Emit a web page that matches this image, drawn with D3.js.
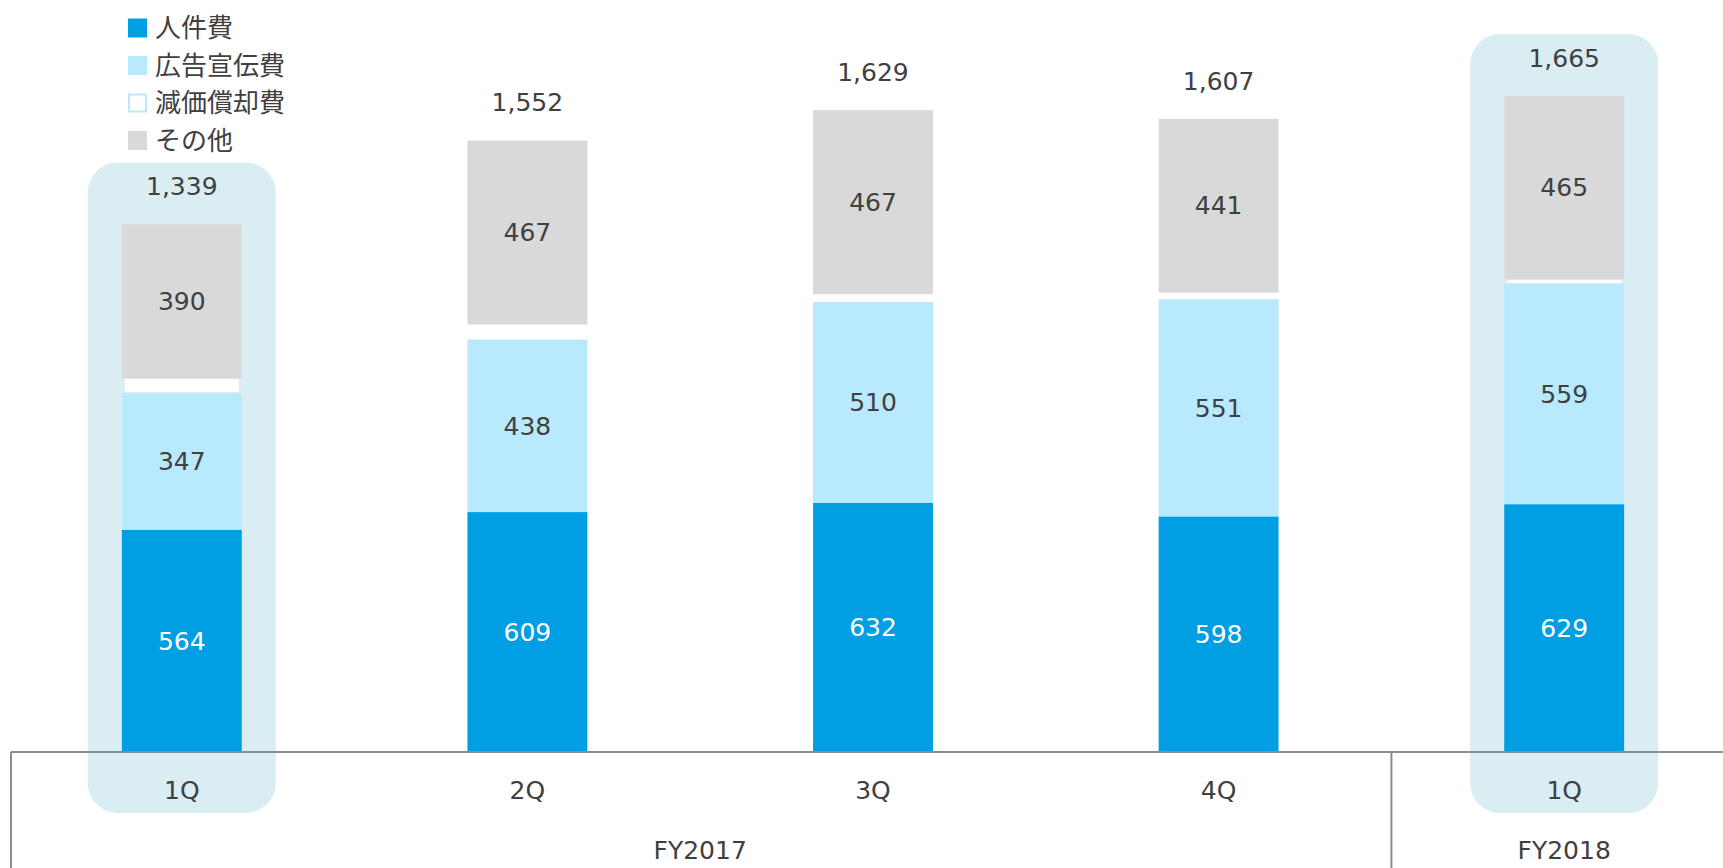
<!DOCTYPE html>
<html>
<head>
<meta charset="utf-8">
<script src="https://cdn.jsdelivr.net/npm/d3@7"></script>
<style>
  body { margin: 0; background: #fff; }
  text { font-family: "DejaVu Sans", Verdana, "Noto Sans CJK JP", sans-serif; fill: #404040; }
</style>
</head>
<body>
<div id="chart"></div>
<script>
var w = 1723;
var h = 868;

// data
var quarters = ["1Q", "2Q", "3Q", "4Q", "1Q "];
var years = ["FY2017", "FY2018"];
var yearSpans = [[0, 3], [4, 4]];
var series = ["人件費", "広告宣伝費", "減価償却費", "その他"];
var personnel = [564, 609, 632, 598, 629];
var advertising = [347, 438, 510, 551, 559];
var depreciation = [38, 38, 20, 17, 12];
var other = [390, 467, 467, 441, 465];
var totals = [1339, 1552, 1629, 1607, 1665];
var highlighted = [0, 4];

var colors = ["#009fe3", "#b8e9fd", "#ffffff", "#d9d9d9"];
var showLabel = [true, true, false, true];

var baseY = 752;

var xScale = d3.scaleBand()
    .domain(quarters)
    .range([9, 1737])
    .paddingInner(0.653)
    .paddingOuter(0.3265);

var yScale = d3.scaleLinear()
    .domain([0, 1665])
    .range([baseY, 96]);

var rows = quarters.map(function(q, i) {
    return {q: q, "人件費": personnel[i], "広告宣伝費": advertising[i],
            "減価償却費": depreciation[i], "その他": other[i], total: totals[i]};
});

var stack = d3.stack().keys(series);
var layers = stack(rows);

var svg = d3.select("#chart")
    .append("svg")
    .attr("width", w)
    .attr("height", h);

// highlight boxes behind the bars
svg.selectAll("rect.hl")
    .data(highlighted)
    .enter()
    .append("rect")
    .attr("class", "hl")
    .attr("x", function(i) { return xScale(quarters[i]) + xScale.bandwidth() / 2 - 94; })
    .attr("width", 188)
    .attr("y", function(i) { return yScale(totals[i]) - 62; })
    .attr("height", function(i) { return 813 - (yScale(totals[i]) - 62); })
    .attr("rx", 30)
    .attr("fill", "#daedf3");

// stacked bars
var layer = svg.selectAll("g.layer")
    .data(layers)
    .enter()
    .append("g")
    .attr("class", "layer");

layer.selectAll("rect")
    .data(function(d, k) { return d.map(function(p) { return {p: p, k: k}; }); })
    .enter()
    .append("rect")
    .attr("x", function(d) {
        return xScale(d.p.data.q) + (d.k == 2 ? 3 : 0);
    })
    .attr("width", function(d) { return xScale.bandwidth() - (d.k == 2 ? 6 : 0); })
    .attr("y", function(d) { return yScale(d.p[1]) + (d.k == 2 ? 1 : 0); })
    .attr("height", function(d) {
        var hh = yScale(d.p[0]) - yScale(d.p[1]);
        return d.k == 2 ? Math.max(hh - 2, 1) : hh;
    })
    .attr("fill", function(d) { return colors[d.k]; });

// segment labels
layer.selectAll("text")
    .data(function(d, k) { return showLabel[k] ? d.map(function(p) { return {p: p, k: k}; }) : []; })
    .enter()
    .append("text")
    .attr("x", function(d) { return xScale(d.p.data.q) + xScale.bandwidth() / 2; })
    .attr("y", function(d) { return (yScale(d.p[0]) + yScale(d.p[1])) / 2; })
    .attr("dy", "0.35em")
    .attr("text-anchor", "middle")
    .style("font-size", "25px")
    .style("fill", function(d) { return d.k == 0 ? "#ffffff" : "#404040"; })
    .text(function(d) { return d.p[1] - d.p[0]; });

// totals
svg.selectAll("text.total")
    .data(rows)
    .enter()
    .append("text")
    .attr("class", "total")
    .attr("x", function(d) { return xScale(d.q) + xScale.bandwidth() / 2; })
    .attr("y", function(d) { return yScale(d.total) - 38; })
    .attr("dy", "0.35em")
    .attr("text-anchor", "middle")
    .style("font-size", "25px")
    .text(function(d) { return d3.format(",")(d.total); });

// category axis with group lines
var xAxis = d3.axisBottom(xScale).tickSize(0).tickPadding(0);
var axisG = svg.append("g")
    .attr("transform", "translate(0," + baseY + ")")
    .call(xAxis);
axisG.select(".domain").remove();
axisG.selectAll("text")
    .attr("y", 38)
    .attr("dy", "0.35em")
    .style("font-size", "25px")
    .style("font-family", null)
    .attr("fill", "#404040");

svg.append("line")
    .attr("x1", 11).attr("x2", w)
    .attr("y1", baseY).attr("y2", baseY)
    .attr("stroke", "#8c8c8c").attr("stroke-width", 2);

var step = xScale.step();
var dividers = [xScale(quarters[0]) + xScale.bandwidth() / 2 - step / 2 + 2,
                xScale(quarters[3]) + xScale.bandwidth() / 2 + step / 2];
svg.selectAll("line.div")
    .data(dividers)
    .enter()
    .append("line")
    .attr("class", "div")
    .attr("x1", function(d) { return d; }).attr("x2", function(d) { return d; })
    .attr("y1", baseY).attr("y2", h)
    .attr("stroke", "#8c8c8c").attr("stroke-width", 2);

svg.selectAll("text.year")
    .data(years)
    .enter()
    .append("text")
    .attr("class", "year")
    .attr("x", function(d, i) {
        var a = xScale(quarters[yearSpans[i][0]]);
        var b = xScale(quarters[yearSpans[i][1]]) + xScale.bandwidth();
        return (a + b) / 2;
    })
    .attr("y", 850)
    .attr("dy", "0.35em")
    .attr("text-anchor", "middle")
    .style("font-size", "25px")
    .text(function(d) { return d; });

// legend
var legend = svg.selectAll("g.legend")
    .data(series)
    .enter()
    .append("g")
    .attr("class", "legend")
    .attr("transform", function(d, i) { return "translate(128," + (28 + i * 37.5) + ")"; });

legend.append("rect")
    .attr("x", function(d, i) { return i == 2 ? 1 : 0; })
    .attr("y", function(d, i) { return i == 2 ? -8.5 : -9.5; })
    .attr("width", function(d, i) { return i == 2 ? 17 : 19; })
    .attr("height", function(d, i) { return i == 2 ? 17 : 19; })
    .attr("fill", function(d, i) { return colors[i]; })
    .attr("stroke", function(d, i) { return i == 2 ? "#b8e9fd" : "none"; })
    .attr("stroke-width", 2);

legend.append("text")
    .attr("x", 27)
    .attr("dy", "0.35em")
    .style("font-size", "26px")
    .text(function(d) { return d; });
</script>
</body>
</html>
